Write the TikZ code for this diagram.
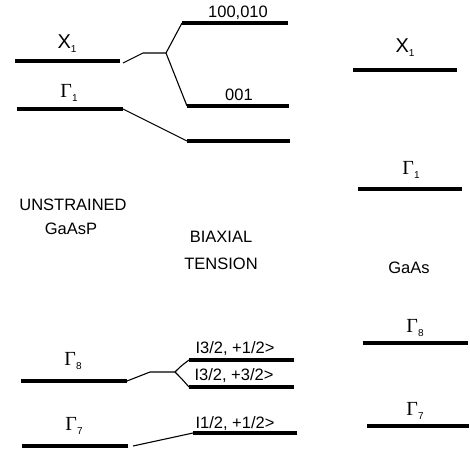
\documentclass[tikz,border=0pt]{standalone}
\usepackage{fontspec}
\setmainfont{Liberation Sans}
\newfontfamily\greekfont{Liberation Serif}
\newcommand{\lsub}[1]{\raisebox{-4pt}{\fontsize{10}{10}\selectfont #1}}
\newcommand{\Gam}[1]{{\greekfont Γ}\lsub{#1}}
\begin{document}
\begin{tikzpicture}[x=1pt,y=-1pt,
  level/.style={line width=3.3pt},
  conn/.style={line width=1.1pt, line join=round},
  txt/.style={font=\fontsize{16.5}{18}\selectfont, inner sep=0pt, anchor=base},
  sym/.style={font=\fontsize{20}{22}\selectfont, inner sep=0pt, anchor=base}]
\useasboundingbox (0,0) rectangle (470,450);

% ---- unstrained GaAsP levels ----
\coordinate (uxA) at (15,61);   \coordinate (uxB) at (120,61);
\coordinate (ugA) at (17,109);  \coordinate (ugB) at (123,109);
\coordinate (u8A) at (21,381);  \coordinate (u8B) at (127,381);
\coordinate (u7A) at (22,446);  \coordinate (u7B) at (128,446);
\draw[level] (uxA) -- (uxB);
\draw[level] (ugA) -- (ugB);
\draw[level] (u8A) -- (u8B);
\draw[level] (u7A) -- (u7B);
\node[sym] (lx1) at (67,48) {X\lsub{1}};
\node[sym] (lg1) at (69,97) {\Gam{1}};
\node[sym] (lg8) at (73,365) {\Gam{8}};
\node[sym] (lg7) at (74,430) {\Gam{7}};
\node[txt] (unstr) at (73,210) {UNSTRAINED};
\node[txt] (gaasp) at (71,234) {GaAsP};

% ---- biaxial tension levels ----
\coordinate (sxuA) at (182,23);  \coordinate (sxuB) at (288,23);
\coordinate (sxdA) at (187,106); \coordinate (sxdB) at (289,106);
\coordinate (sgA)  at (187,141); \coordinate (sgB)  at (290,141);
\coordinate (s8uA) at (189,360); \coordinate (s8uB) at (294,360);
\coordinate (s8dA) at (189,387); \coordinate (s8dB) at (294,387);
\coordinate (s7A)  at (193,433); \coordinate (s7B)  at (297,433);
\draw[level] (sxuA) -- (sxuB);
\draw[level] (sxdA) -- (sxdB);
\draw[level] (sgA) -- (sgB);
\draw[level] (s8uA) -- (s8uB);
\draw[level] (s8dA) -- (s8dB);
\draw[level] (s7A) -- (s7B);
\node[txt] (t100) at (238,17) {100,010};
\node[txt] (t001) at (239,100) {001};
\node[txt] (t312) at (235,353) {I3/2, +1/2>};
\node[txt] (t332) at (234,380) {I3/2, +3/2>};
\node[txt] (t112) at (235,428) {I1/2, +1/2>};
\node[txt] (biax) at (221,242) {BIAXIAL};
\node[txt] (tens) at (221,269) {TENSION};

% ---- connectors (splittings under strain) ----
\coordinate (xk1) at (143,53);  \coordinate (xk2) at (166,53);
\draw[conn] ([xshift=3pt,yshift=-2pt]uxB) -- (xk1) -- (xk2);
\draw[conn] (xk2) -- (sxuA);
\draw[conn] (xk2) -- (sxdA);
\draw[conn] (ugB) -- (sgA);
\coordinate (vk1) at (150,372); \coordinate (vk2) at (175,372);
\draw[conn] (u8B) -- (vk1) -- (vk2);
\draw[conn] (vk2) .. controls (181,366) .. (s8uA);
\draw[conn] (vk2) .. controls (181,378) .. (s8dA);
\draw[conn] ([xshift=5pt]u7B) -- (s7A);

% ---- GaAs levels ----
\coordinate (gxA) at (353,70);  \coordinate (gxB) at (457,70);
\coordinate (ggA) at (358,189); \coordinate (ggB) at (462,189);
\coordinate (g8A) at (363,343); \coordinate (g8B) at (468,343);
\coordinate (g7A) at (367,426); \coordinate (g7B) at (469,426);
\draw[level] (gxA) -- (gxB);
\draw[level] (ggA) -- (ggB);
\draw[level] (g8A) -- (g8B);
\draw[level] (g7A) -- (g7B);
\node[sym] (rx1) at (405,52) {X\lsub{1}};
\node[sym] (rg1) at (411,174) {\Gam{1}};
\node[sym] (rg8) at (415,332) {\Gam{8}};
\node[sym] (rg7) at (415,415) {\Gam{7}};
\node[txt] (gaas) at (409,273) {GaAs};
\end{tikzpicture}
\end{document}
